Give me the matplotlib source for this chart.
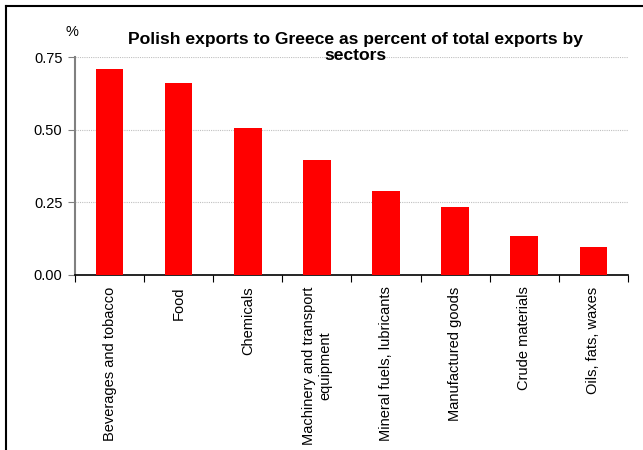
import numpy as np
import matplotlib.pyplot as plt
from matplotlib.lines import Line2D

plt.rcParams["font.family"] = ["Liberation Sans", "DejaVu Sans"]

sectors = [
    "Beverages and tobacco",
    "Food",
    "Chemicals",
    "Machinery and transport\nequipment",
    "Mineral fuels, lubricants",
    "Manufactured goods",
    "Crude materials",
    "Oils, fats, waxes",
]
shares = [0.71, 0.66, 0.505, 0.395, 0.29, 0.233, 0.133, 0.096]
yticks = [0.00, 0.25, 0.50, 0.75]

fig = plt.figure(figsize=(6.43, 4.5), dpi=100)
ax = fig.add_axes([0.1166, 0.3889, 0.86, 0.4844])

x = np.arange(len(sectors))
ax.bar(x, shares, width=0.4, color="#ff0000", zorder=3)

ax.set_xlim(-0.5, len(sectors) - 0.5)
ax.set_ylim(0, 0.75)
ax.set_yticks(yticks)
ax.set_yticklabels([f"{v:.2f}" for v in yticks], fontsize=10.5)
ax.yaxis.grid(True, color="#c0c0c0", linestyle=(0, (1, 1)), linewidth=0.8, zorder=0)

# category labels sit under the bars, ticks go on the boundaries
ax.set_xticks(np.arange(len(sectors) + 1) - 0.5)
ax.set_xticklabels([])
ax.tick_params(axis="x", length=5, color="black", direction="out")
ax.tick_params(axis="y", length=5, color="#808080", direction="out", pad=4)
for i, name in enumerate(sectors):
    ax.text(i, -0.04, name, rotation=90, ha="center", va="top",
            fontsize=10.5, multialignment="center",
            transform=ax.transData)

for side in ["top", "right"]:
    ax.spines[side].set_visible(False)
ax.spines["left"].set_color("#808080")
ax.spines["left"].set_linewidth(1.5)
ax.spines["bottom"].set_color("black")
ax.spines["bottom"].set_linewidth(1.2)

fig.text(355 / 643, 1 - 47.5 / 450,
         "Polish exports to Greece as percent of total exports by\nsectors",
         fontsize=12.6, fontweight="bold", ha="center", va="center",
         linespacing=1.1)
fig.text(72 / 643, 1 - 32 / 450, "%", fontsize=10.5, ha="center", va="center")

# frame around the chart
fig.add_artist(Line2D([6 / 643, 1.0], [1 - 6 / 450, 1 - 6 / 450],
                      color="black", linewidth=1.5, transform=fig.transFigure))
fig.add_artist(Line2D([6 / 643, 6 / 643], [0, 1 - 6 / 450],
                      color="black", linewidth=1.5, transform=fig.transFigure))

fig.savefig("out.png", dpi=100)
